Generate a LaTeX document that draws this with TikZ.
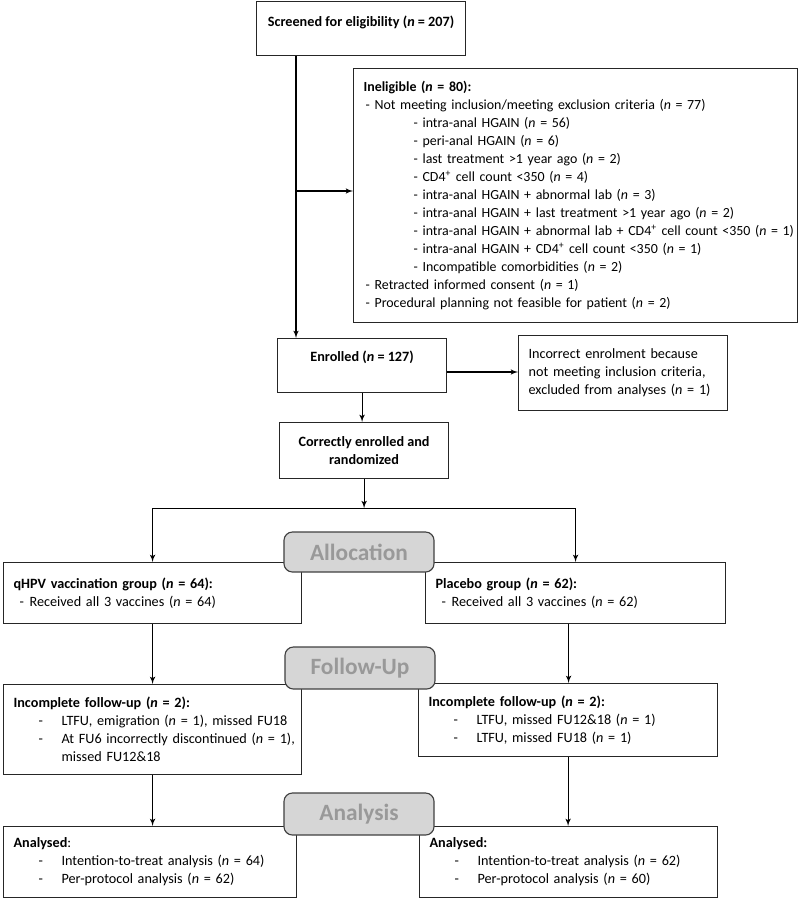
\documentclass[tikz,border=0pt]{standalone}
\usepackage{fontspec}
\setmainfont{Carlito}
\usepackage{tikz}
\usetikzlibrary{arrows}

\newcommand{\nn}{\textit{n}}
\newcommand{\dashitem}[3]{\hspace*{#1}\makebox[#2][l]{-}\mbox{#3}}
\newcommand{\topdash}{\dashitem{0.05cm}{0.225cm}}
\newcommand{\subdash}{\dashitem{1.25cm}{0.225cm}}
\newcommand{\grpdash}{\dashitem{0.15cm}{0.25cm}}
\newcommand{\lstdash}{\dashitem{0.625cm}{0.575cm}}

\tikzset{
	box/.style={draw=black!85, anchor=north west, inner xsep=0.25cm, inner ysep=0pt, align=left, font=\fontsize{10.1}{12.8}\selectfont},
	cbox/.style={box, align=center},
	phase/.style={draw=black!75, fill=black!16, rounded corners=6pt, minimum width=3.75cm, text=black!40, font=\fontsize{16.6}{18}\selectfont\bfseries}
}

\begin{document}
\begin{tikzpicture}[x=0.025cm, y=-0.025cm, >=latex', line width=0.8pt]
		\useasboundingbox (0,0) rectangle (800,900);
		
		\node[cbox, minimum width=5.225cm, minimum height=1.35cm, text depth=11pt] (screen) at (256,1) {\textbf{Screened for eligibility (\nn{} = 207)}};
		\node[box, text width=10.6cm, minimum height=6.35cm, font=\fontsize{9.9}{12.8}\selectfont] (inel) at (353,68) {\textbf{Ineligible (\nn{} = 80):}\\
			\topdash{Not meeting inclusion/meeting exclusion criteria (\nn{} = 77)}\\
			\subdash{intra-anal HGAIN (\nn{} = 56)}\\
			\subdash{peri-anal HGAIN (\nn{} = 6)}\\
			\subdash{last treatment >1 year ago (\nn{} = 2)}\\
			\subdash{CD4\textsuperscript{+} cell count <350 (\nn{} = 4)}\\
			\subdash{intra-anal HGAIN + abnormal lab (\nn{} = 3)}\\
			\subdash{intra-anal HGAIN + last treatment >1 year ago (\nn{} = 2)}\\
			\subdash{intra-anal HGAIN + abnormal lab + CD4\textsuperscript{+} cell count <350 (\nn{} = 1)}\\
			\subdash{intra-anal HGAIN + CD4\textsuperscript{+} cell count <350 (\nn{} = 1)}\\
			\subdash{Incompatible comorbidities (\nn{} = 2)}\\
			\topdash{Retracted informed consent (\nn{} = 1)}\\
			\topdash{Procedural planning not feasible for patient (\nn{} = 2)}};
		\node[cbox, minimum width=4.225cm, minimum height=1.35cm, text depth=13.6pt] (enrol) at (277,338) {\textbf{Enrolled (\nn{} = 127)}};
		\node[box, text width=4.725cm, minimum height=1.875cm] (incorr) at (518,335) {Incorrect enrolment because\\ not meeting inclusion criteria,\\ excluded from analyses (\nn{} = 1)};
		\node[cbox, minimum width=4.225cm, minimum height=1.4cm] (correct) at (279,422) {\textbf{Correctly enrolled and}\\ \textbf{randomized}};
		
		% groups
		\node[box, text width=6.95cm, minimum height=1.525cm] (qhpv) at (3,562) {\textbf{qHPV vaccination group (\nn{} = 64):}\\ \grpdash{Received all 3 vaccines (\nn{} = 64)}};
		\node[box, text width=7.0cm, minimum height=1.525cm] (plac) at (425,562) {\textbf{Placebo group (\nn{} = 62):}\\ \grpdash{Received all 3 vaccines (\nn{} = 62)}};
		\node[box, text width=6.95cm, minimum height=2.25cm] (incl) at (3,684) {\textbf{Incomplete follow-up (\nn{} = 2):}\\
			\lstdash{LTFU, emigration (\nn{} = 1), missed FU18}\\
			\lstdash{At FU6 incorrectly discontinued (\nn{} = 1),}\\
			\hspace*{1.2cm}missed FU12\&18};
		\node[box, text width=6.975cm, minimum height=1.825cm] (incr) at (418,683) {\textbf{Incomplete follow-up (\nn{} = 2):}\\
			\lstdash{LTFU, missed FU12\&18 (\nn{} = 1)}\\
			\lstdash{LTFU, missed FU18 (\nn{} = 1)}};
		\node[box, text width=6.825cm, minimum height=1.775cm] (anl) at (3,826) {\textbf{Analysed}:\\
			\lstdash{Intention-to-treat analysis (\nn{} = 64)}\\
			\lstdash{Per-protocol analysis (\nn{} = 62)}};
		\node[box, text width=6.95cm, minimum height=1.775cm] (anr) at (419,826) {\textbf{Analysed:}\\
			\lstdash{Intention-to-treat analysis (\nn{} = 62)}\\
			\lstdash{Per-protocol analysis (\nn{} = 60)}};
		
		\coordinate (trunk) at (296,191);
		\coordinate (excl) at (480,372);
		\path (correct.south) ++(0,29) coordinate (split);
		
		\draw[->] (trunk |- screen.south) -- (trunk |- enrol.north);
		\draw[->] (trunk) -- (trunk -| inel.west);
		\draw[->] (excl -| enrol.east) -- (excl -| incorr.west);
		\draw[->] (enrol.south) -- (enrol.south |- correct.north);
		\draw[->] (correct.south) -- (split);
		\draw[->] (split) -| (qhpv.north);
		\draw[->] (split) -| (plac.north);
		\draw[->] (qhpv.south) -- (qhpv.south |- incl.north);
		\draw[->] ([xshift=-0.175cm]plac.south) -- ([xshift=-0.175cm]plac.south |- incr.north);
		\draw[->] (incl.south) -- (incl.south |- anl.north);
		\draw[->] (incr.south) -- (incr.south |- anr.north);
		
		% phase labels on top
		\node[phase, minimum height=1.0cm] (alloc) at (359,552) {Allocation};
		\node[phase, minimum height=1.05cm] (follow) at (360,668) {Follow-Up};
		\node[phase, minimum height=1.05cm] (analys) at (359,814) {Analysis};
	\end{tikzpicture}
\end{document}
